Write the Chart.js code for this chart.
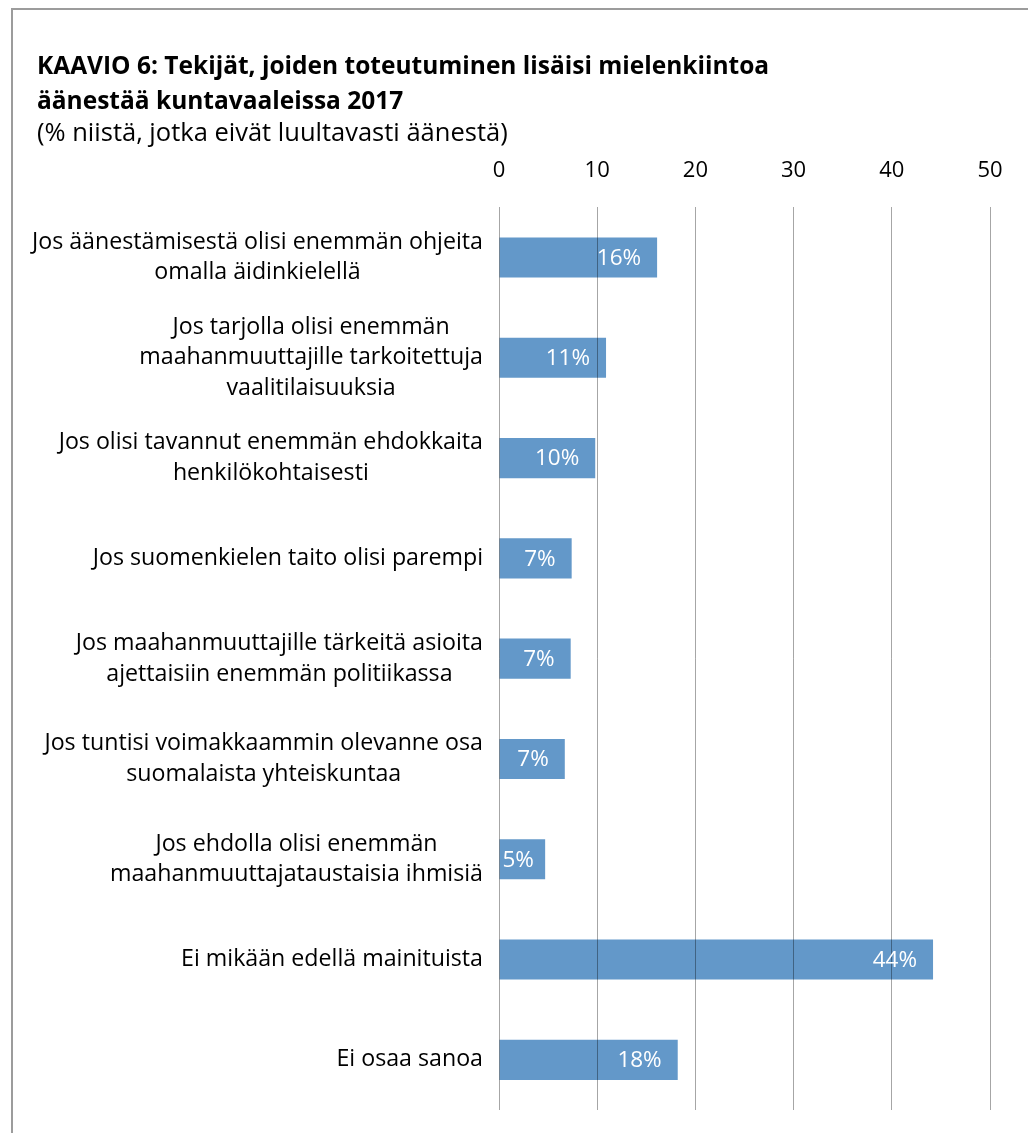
<!DOCTYPE html>
<html lang="fi">
<head>
<meta charset="utf-8">
<title>KAAVIO 6</title>
<script src="https://cdn.jsdelivr.net/npm/chart.js@4"></script>
<style>
    html, body { margin: 0; padding: 0; background: #ffffff; }
    #wrap { position: relative; width: 1028px; height: 1133px; }
</style>
</head>
<body>
<div id="wrap"><canvas id="barChart"></canvas></div>
<script>
// Kategoriat (rivitetty kuten alkuperäisessä kaaviossa)
const categories = [
    ["Jos äänestämisestä olisi enemmän ohjeita", "omalla äidinkielellä"],
    ["Jos tarjolla olisi enemmän", "maahanmuuttajille tarkoitettuja", "vaalitilaisuuksia"],
    ["Jos olisi tavannut enemmän ehdokkaita", "henkilökohtaisesti"],
    ["Jos suomenkielen taito olisi parempi"],
    ["Jos maahanmuuttajille tärkeitä asioita", "ajettaisiin enemmän politiikassa"],
    ["Jos tuntisi voimakkaammin olevanne osa", "suomalaista yhteiskuntaa"],
    ["Jos ehdolla olisi enemmän", "maahanmuuttajataustaisia ihmisiä"],
    ["Ei mikään edellä mainituista"],
    ["Ei osaa sanoa"]
];

// Osuudet prosentteina
const shares = [16.1, 10.9, 9.8, 7.4, 7.3, 6.7, 4.7, 44.2, 18.2];

// Akselin arvot
const xTicks = [0, 10, 20, 30, 40, 50];

const titleLines = [
    "KAAVIO 6: Tekijät, joiden toteutuminen lisäisi mielenkiintoa",
    "äänestää kuntavaaleissa 2017"
];
const subtitleText = "(% niistä, jotka eivät luultavasti äänestä)";

const FONT = "'Open Sans', Lato, sans-serif";

// Kehys vasemmalle ja ylös
const framePlugin = {
    id: "frame",
    beforeDraw(chart) {
        const c = chart.ctx;
        c.save();
        c.strokeStyle = "#9c9c9c";
        c.lineWidth = 2;
        c.beginPath();
        c.moveTo(12, chart.height);
        c.lineTo(12, 9);
        c.lineTo(chart.width, 9);
        c.stroke();
        c.restore();
    }
};

// Kategorioiden nimet: lohko oikealle, rivit keskitettynä
const categoryLabelPlugin = {
    id: "categoryLabels",
    afterDraw(chart) {
        const c = chart.ctx;
        const yScale = chart.scales.y;
        const right = chart.chartArea.left - 16;
        const lineH = 30.5;
        c.save();
        c.font = "23.2px " + FONT;
        c.fillStyle = "#000000";
        c.textAlign = "center";
        c.textBaseline = "middle";
        chart.data.labels.forEach((lines, i) => {
            const yc = yScale.getPixelForTick(i);
            const w = Math.max(...lines.map(l => c.measureText(l).width));
            const xc = right - w / 2;
            const top = yc - (lines.length - 1) * lineH / 2;
            lines.forEach((l, k) => c.fillText(l, xc, top + k * lineH));
        });
        c.restore();
    }
};

// Arvot palkkien sisään
const valueLabelPlugin = {
    id: "valueLabels",
    afterDraw(chart) {
        const c = chart.ctx;
        const meta = chart.getDatasetMeta(0);
        c.save();
        c.font = "22.5px " + FONT;
        c.fillStyle = "#ffffff";
        c.textAlign = "left";
        c.textBaseline = "middle";
        meta.data.forEach((bar, i) => {
            const txt = Math.round(shares[i]) + "%";
            const w = c.measureText(txt).width;
            let x = bar.x - 16 - w;
            if (x < bar.base + 3) x = bar.base + 3;
            c.fillText(txt, x, bar.y + 1);
        });
        c.restore();
    }
};

let ctx = document.getElementById("barChart").getContext("2d");
let barChart = new Chart(ctx, {
    type: "bar",
    data: {
        labels: categories,
        datasets: [{
            data: shares,
            backgroundColor: "#6398c9",
            borderWidth: 0,
            categoryPercentage: 1,
            barPercentage: 0.4
        }]
    },
    options: {
        indexAxis: "y",
        responsive: true,
        maintainAspectRatio: false,
        animation: false,
        layout: {
            padding: { left: 37, right: 38, top: 49, bottom: 23 }
        },
        plugins: {
            legend: { display: false },
            tooltip: { enabled: false },
            title: {
                display: true,
                text: titleLines,
                align: "start",
                color: "#000000",
                font: { family: FONT, size: 24.5, weight: "bold", lineHeight: 1.43 },
                padding: { top: 0, bottom: 0 }
            },
            subtitle: {
                display: true,
                text: subtitleText,
                align: "start",
                color: "#000000",
                font: { family: FONT, size: 25.5, lineHeight: 1.18 },
                padding: { top: 0, bottom: 0 }
            }
        },
        scales: {
            x: {
                position: "top",
                min: xTicks[0],
                max: xTicks[xTicks.length - 1],
                afterBuildTicks: (scale) => {
                    scale.ticks = xTicks.map(v => ({ value: v }));
                },
                afterFit: (scale) => { scale.height = 58.2; },
                ticks: {
                    color: "#000000",
                    font: { family: FONT, size: 22 },
                    padding: 23
                },
                grid: {
                    color: "rgba(0,0,0,0.35)",
                    lineWidth: 1,
                    drawTicks: false,
                    z: 1
                },
                border: { display: false }
            },
            y: {
                afterFit: (scale) => { scale.width = 462; },
                ticks: { display: false },
                grid: { display: false },
                border: { display: false }
            }
        }
    },
    plugins: [framePlugin, categoryLabelPlugin, valueLabelPlugin]
});
</script>
</body>
</html>
